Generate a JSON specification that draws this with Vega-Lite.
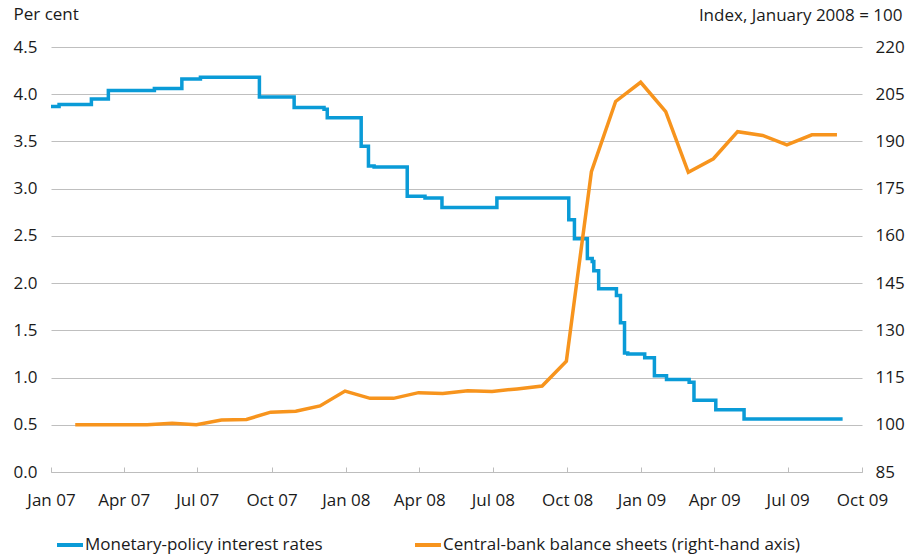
{
  "$schema": "https://vega.github.io/schema/vega-lite/v6.json",
  "width": 811,
  "height": 425,
  "autosize": {"type": "none"},
  "padding": {"left": 51, "top": 47, "right": 47, "bottom": 85},
  "background": "white",
  "config": {
    "view": {"stroke": null},
    "font": "Open Sans",
    "axis": {
      "labelFont": "Open Sans",
      "labelFontSize": 17,
      "labelColor": "#1a1a1a",
      "titleFont": "Open Sans",
      "titleFontSize": 17,
      "titleFontWeight": "normal",
      "titleColor": "#1a1a1a"
    },
    "legend": {
      "labelFont": "Open Sans",
      "labelFontSize": 17,
      "labelColor": "#1a1a1a"
    }
  },
  "datasets": {
    "rates": [
      {"date": "2007-01-01", "value": 3.87, "series": "Monetary-policy interest rates"},
      {"date": "2007-01-11", "value": 3.89, "series": "Monetary-policy interest rates"},
      {"date": "2007-02-20", "value": 3.95, "series": "Monetary-policy interest rates"},
      {"date": "2007-03-13", "value": 4.04, "series": "Monetary-policy interest rates"},
      {"date": "2007-05-09", "value": 4.06, "series": "Monetary-policy interest rates"},
      {"date": "2007-06-12", "value": 4.16, "series": "Monetary-policy interest rates"},
      {"date": "2007-07-05", "value": 4.18, "series": "Monetary-policy interest rates"},
      {"date": "2007-09-16", "value": 3.97, "series": "Monetary-policy interest rates"},
      {"date": "2007-10-29", "value": 3.86, "series": "Monetary-policy interest rates"},
      {"date": "2007-12-05", "value": 3.84, "series": "Monetary-policy interest rates"},
      {"date": "2007-12-09", "value": 3.75, "series": "Monetary-policy interest rates"},
      {"date": "2008-01-20", "value": 3.45, "series": "Monetary-policy interest rates"},
      {"date": "2008-01-29", "value": 3.24, "series": "Monetary-policy interest rates"},
      {"date": "2008-02-05", "value": 3.23, "series": "Monetary-policy interest rates"},
      {"date": "2008-03-17", "value": 2.92, "series": "Monetary-policy interest rates"},
      {"date": "2008-04-08", "value": 2.90, "series": "Monetary-policy interest rates"},
      {"date": "2008-04-29", "value": 2.80, "series": "Monetary-policy interest rates"},
      {"date": "2008-07-06", "value": 2.90, "series": "Monetary-policy interest rates"},
      {"date": "2008-10-03", "value": 2.67, "series": "Monetary-policy interest rates"},
      {"date": "2008-10-10", "value": 2.47, "series": "Monetary-policy interest rates"},
      {"date": "2008-10-26", "value": 2.26, "series": "Monetary-policy interest rates"},
      {"date": "2008-11-01", "value": 2.23, "series": "Monetary-policy interest rates"},
      {"date": "2008-11-03", "value": 2.13, "series": "Monetary-policy interest rates"},
      {"date": "2008-11-09", "value": 1.94, "series": "Monetary-policy interest rates"},
      {"date": "2008-12-01", "value": 1.87, "series": "Monetary-policy interest rates"},
      {"date": "2008-12-06", "value": 1.58, "series": "Monetary-policy interest rates"},
      {"date": "2008-12-11", "value": 1.26, "series": "Monetary-policy interest rates"},
      {"date": "2008-12-15", "value": 1.25, "series": "Monetary-policy interest rates"},
      {"date": "2009-01-05", "value": 1.21, "series": "Monetary-policy interest rates"},
      {"date": "2009-01-17", "value": 1.02, "series": "Monetary-policy interest rates"},
      {"date": "2009-02-01", "value": 0.98, "series": "Monetary-policy interest rates"},
      {"date": "2009-03-01", "value": 0.95, "series": "Monetary-policy interest rates"},
      {"date": "2009-03-07", "value": 0.76, "series": "Monetary-policy interest rates"},
      {"date": "2009-04-03", "value": 0.66, "series": "Monetary-policy interest rates"},
      {"date": "2009-05-08", "value": 0.56, "series": "Monetary-policy interest rates"},
      {"date": "2009-09-07", "value": 0.56, "series": "Monetary-policy interest rates"}
    ],
    "balance": [
      {"date": "2007-01-31", "value": 100, "series": "Central-bank balance sheets (right-hand axis)"},
      {"date": "2007-02-28", "value": 100, "series": "Central-bank balance sheets (right-hand axis)"},
      {"date": "2007-03-31", "value": 100, "series": "Central-bank balance sheets (right-hand axis)"},
      {"date": "2007-04-30", "value": 100, "series": "Central-bank balance sheets (right-hand axis)"},
      {"date": "2007-05-31", "value": 100.5, "series": "Central-bank balance sheets (right-hand axis)"},
      {"date": "2007-06-30", "value": 100, "series": "Central-bank balance sheets (right-hand axis)"},
      {"date": "2007-07-31", "value": 101.5, "series": "Central-bank balance sheets (right-hand axis)"},
      {"date": "2007-08-31", "value": 101.7, "series": "Central-bank balance sheets (right-hand axis)"},
      {"date": "2007-09-30", "value": 104, "series": "Central-bank balance sheets (right-hand axis)"},
      {"date": "2007-10-31", "value": 104.3, "series": "Central-bank balance sheets (right-hand axis)"},
      {"date": "2007-11-30", "value": 106, "series": "Central-bank balance sheets (right-hand axis)"},
      {"date": "2007-12-31", "value": 110.7, "series": "Central-bank balance sheets (right-hand axis)"},
      {"date": "2008-01-31", "value": 108.4, "series": "Central-bank balance sheets (right-hand axis)"},
      {"date": "2008-02-29", "value": 108.4, "series": "Central-bank balance sheets (right-hand axis)"},
      {"date": "2008-03-31", "value": 110.2, "series": "Central-bank balance sheets (right-hand axis)"},
      {"date": "2008-04-30", "value": 109.9, "series": "Central-bank balance sheets (right-hand axis)"},
      {"date": "2008-05-31", "value": 110.8, "series": "Central-bank balance sheets (right-hand axis)"},
      {"date": "2008-06-30", "value": 110.6, "series": "Central-bank balance sheets (right-hand axis)"},
      {"date": "2008-07-31", "value": 111.4, "series": "Central-bank balance sheets (right-hand axis)"},
      {"date": "2008-08-31", "value": 112.3, "series": "Central-bank balance sheets (right-hand axis)"},
      {"date": "2008-09-30", "value": 120.2, "series": "Central-bank balance sheets (right-hand axis)"},
      {"date": "2008-10-31", "value": 180.4, "series": "Central-bank balance sheets (right-hand axis)"},
      {"date": "2008-11-30", "value": 202.7, "series": "Central-bank balance sheets (right-hand axis)"},
      {"date": "2008-12-31", "value": 208.8, "series": "Central-bank balance sheets (right-hand axis)"},
      {"date": "2009-01-31", "value": 199.5, "series": "Central-bank balance sheets (right-hand axis)"},
      {"date": "2009-02-28", "value": 180.2, "series": "Central-bank balance sheets (right-hand axis)"},
      {"date": "2009-03-31", "value": 184.5, "series": "Central-bank balance sheets (right-hand axis)"},
      {"date": "2009-04-30", "value": 193.1, "series": "Central-bank balance sheets (right-hand axis)"},
      {"date": "2009-05-31", "value": 191.9, "series": "Central-bank balance sheets (right-hand axis)"},
      {"date": "2009-06-30", "value": 188.9, "series": "Central-bank balance sheets (right-hand axis)"},
      {"date": "2009-07-31", "value": 192.1, "series": "Central-bank balance sheets (right-hand axis)"},
      {"date": "2009-08-31", "value": 192.1, "series": "Central-bank balance sheets (right-hand axis)"}
    ]
  },
  "layer": [
    {
      "data": {"name": "rates"},
      "mark": {"type": "line", "interpolate": "step-after", "strokeWidth": 3.5},
      "encoding": {
        "x": {
          "field": "date",
          "type": "temporal",
          "scale": {
            "type": "utc",
            "domain": [
              {"year": 2007, "month": 1, "date": 1, "utc": true},
              {"year": 2009, "month": 10, "date": 1, "utc": true}
            ]
          },
          "axis": {
            "title": null,
            "tickCount": {"interval": "month", "step": 3},
            "labelExpr": "utcFormat(datum.value, '%b %y')",
            "grid": false,
            "domain": true,
            "domainColor": "#bdbdbd",
            "domainWidth": 1,
            "ticks": true,
            "tickColor": "#bdbdbd",
            "tickSize": -5,
            "labelPadding": 38,
            "labelBaseline": "alphabetic",
            "labelFlush": false,
            "labelOverlap": false
          }
        },
        "y": {
          "field": "value",
          "type": "quantitative",
          "scale": {"domain": [0, 4.5], "nice": false, "zero": false},
          "axis": {
            "title": "Per cent",
            "titleAngle": 0,
            "titleAlign": "left",
            "titleBaseline": "alphabetic",
            "titleX": -38,
            "titleY": -28,
            "values": [0, 0.5, 1, 1.5, 2, 2.5, 3, 3.5, 4, 4.5],
            "format": ".1f",
            "domain": false,
            "ticks": false,
            "grid": true,
            "gridColor": "#bfbfbf",
            "gridWidth": 1,
            "labelPadding": 14
          }
        },
        "color": {
          "field": "series",
          "type": "nominal",
          "scale": {
            "domain": ["Monetary-policy interest rates", "Central-bank balance sheets (right-hand axis)"],
            "range": ["#0a9bd7", "#f7941d"]
          },
          "legend": {
            "title": null,
            "orient": "none",
            "legendX": 4,
            "legendY": 483,
            "direction": "horizontal",
            "symbolType": "stroke",
            "symbolSize": 676,
            "symbolStrokeWidth": 4,
            "columnPadding": 84,
            "labelOffset": 0,
            "labelLimit": 500
          }
        }
      }
    },
    {
      "data": {"name": "balance"},
      "mark": {"type": "line", "strokeWidth": 3.5},
      "encoding": {
        "x": {"field": "date", "type": "temporal"},
        "y": {
          "field": "value",
          "type": "quantitative",
          "scale": {"domain": [85, 220], "nice": false, "zero": false},
          "axis": {
            "orient": "right",
            "title": "Index, January 2008 = 100",
            "titleAngle": 0,
            "titleAlign": "right",
            "titleBaseline": "alphabetic",
            "titleX": 40,
            "titleY": -27,
            "values": [85, 100, 115, 130, 145, 160, 175, 190, 205, 220],
            "domain": false,
            "ticks": false,
            "grid": false,
            "labelPadding": 13
          }
        },
        "color": {"field": "series", "type": "nominal"}
      }
    }
  ],
  "resolve": {"scale": {"y": "independent"}}
}
